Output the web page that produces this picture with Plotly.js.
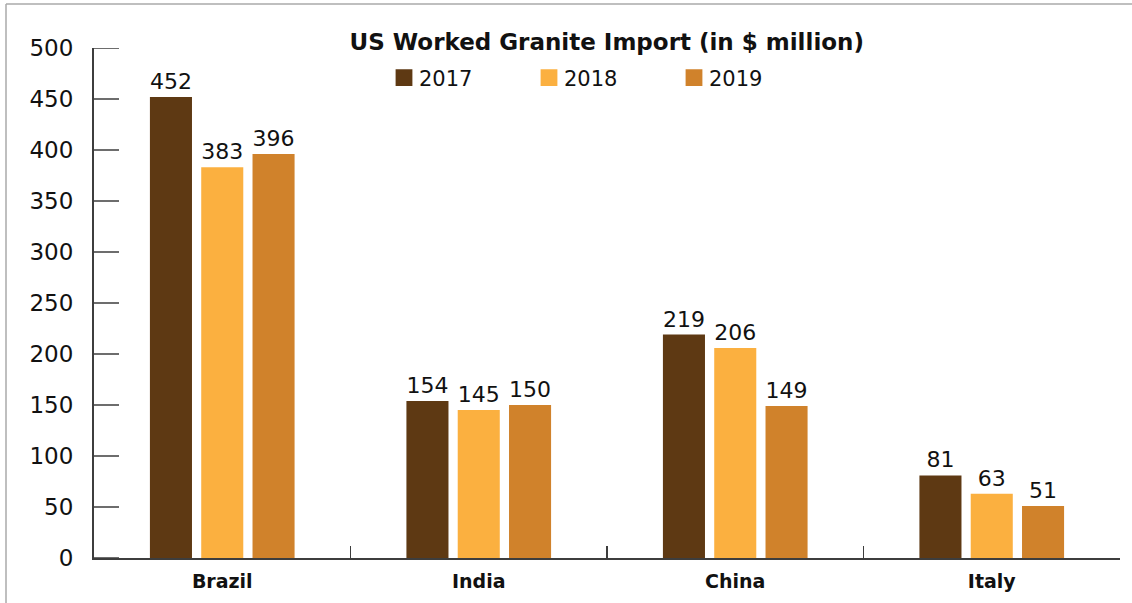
<!DOCTYPE html>
<html>
<head>
<meta charset="utf-8">
<script src="https://cdn.plot.ly/plotly-3.0.1.min.js"></script>
<style>html,body{margin:0;padding:0;background:#fff;}#chart{width:1132px;height:603px;}</style>
</head>
<body>
<div id="chart"></div>
<script>
const categories = ["Brazil", "India", "China", "Italy"];
const years = ["2017", "2018", "2019"];
const values2017 = [452, 154, 219, 81];
const values2018 = [383, 145, 206, 63];
const values2019 = [396, 150, 149, 51];
const yTicks = [0, 50, 100, 150, 200, 250, 300, 350, 400, 450, 500];
const colors = ["#5E3913", "#FBB040", "#D0822B"];

const FONT = "DejaVu Sans, sans-serif";
const series = [values2017, values2018, values2019];
const traces = series.map((vals, i) => ({
  type: "bar",
  name: years[i],
  x: categories,
  y: vals,
  text: vals.map(String),
  textposition: "outside",
  cliponaxis: false,
  textfont: {family: FONT, size: 22, color: "#111"},
  marker: {color: colors[i]},
  hoverinfo: "skip"
}));

const L = 94, R = 1120, T = 48, B = 558;
const px2x = p => (p - L) / (R - L);
const px2y = p => (B - p) / (B - T);

const tickShapes = yTicks.map(v => ({
  type: "line", xref: "paper", yref: "y", layer: "above",
  x0: 0, x1: 25 / (R - L), y0: v, y1: v,
  line: {color: "#3d3d3d", width: 1.5}
}));

const layout = {
  width: 1132, height: 603,
  margin: {l: L, r: 1132 - R, t: T, b: 603 - B},
  paper_bgcolor: "#fff", plot_bgcolor: "#fff",
  font: {family: FONT, color: "#111"},
  barmode: "group",
  bargap: 0.4,
  bargroupgap: 0.18,
  title: {
    text: "<b>US Worked Granite Import (in $ million)</b>",
    font: {family: FONT, size: 23, color: "#111"},
    xref: "container", x: 0.536, xanchor: "center",
    yref: "container", y: 1 - 42 / 603, yanchor: "middle"
  },
  showlegend: true,
  legend: {
    orientation: "h",
    x: px2x(379), xanchor: "left",
    y: px2y(78), yanchor: "middle",
    entrywidth: 100, entrywidthmode: "pixels",
    font: {family: FONT, size: 21, color: "#111"},
    bgcolor: "rgba(0,0,0,0)",
    traceorder: "normal"
  },
  xaxis: {
    type: "category",
    showline: true, linecolor: "#3d3d3d", linewidth: 2,
    ticks: "inside", tickson: "boundaries", ticklen: 12, tickwidth: 1.5, tickcolor: "#3d3d3d",
    tickfont: {family: FONT, size: 19, color: "#111", weight: "bold"},
    ticklabelstandoff: 5,
    showgrid: false, zeroline: false, fixedrange: true
  },
  yaxis: {
    range: [0, 500],
    tickvals: yTicks,
    ticktext: yTicks.map(String),
    showline: true, linecolor: "#3d3d3d", linewidth: 2,
    ticks: "",
    tickfont: {family: FONT, size: 23, color: "#111"},
    ticklabelstandoff: 14,
    showgrid: false, zeroline: false, fixedrange: true
  },
  shapes: [
    {type: "line", xref: "paper", yref: "paper", x0: px2x(6), x1: px2x(1140), y0: px2y(4), y1: px2y(4),
     line: {color: "#aaaaaa", width: 1.5}},
    {type: "line", xref: "paper", yref: "paper", x0: px2x(6), x1: px2x(6), y0: px2y(4), y1: px2y(610),
     line: {color: "#aaaaaa", width: 1.5}}
  ].concat(tickShapes)
};

Plotly.newPlot("chart", traces, layout, {displayModeBar: false, staticPlot: true}).then(gd => {
  // enlarge legend swatches (about their own centre) to match the reference's bigger squares
  gd.querySelectorAll(".legend .legendpoints path").forEach(p => {
    const bb = p.getBBox();
    const cx = bb.x + bb.width / 2, cy = bb.y + bb.height / 2;
    const prev = p.getAttribute("transform") || "";
    p.setAttribute("transform",
      prev + " translate(" + (cx + 5) + "," + cy + ") scale(1.4) translate(" + (-cx) + "," + (-cy) + ")");
  });
});
</script>
</body>
</html>
